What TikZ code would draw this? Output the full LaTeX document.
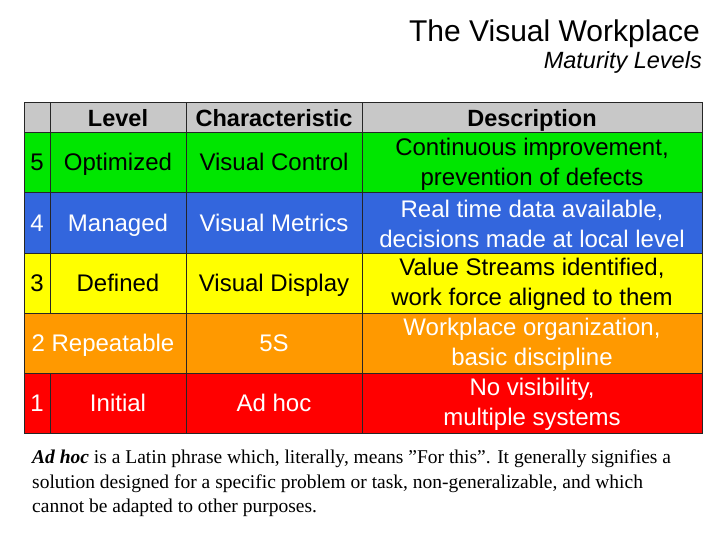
\documentclass[tikz,border=0pt]{standalone}
\usepackage{fontspec}
\setmainfont{Liberation Serif}
\newfontfamily\arial{Liberation Sans}
\definecolor{gr}{RGB}{0,230,0}
\definecolor{bl}{RGB}{51,102,221}
\definecolor{ye}{RGB}{255,255,0}
\definecolor{orr}{RGB}{255,153,0}
\definecolor{re}{RGB}{255,0,0}
\definecolor{hd}{RGB}{200,200,200}
\begin{document}
\begin{tikzpicture}[x=1pt,y=-1pt,
  cell/.style={font=\arial\fontsize{24}{24}\selectfont,inner sep=0pt,anchor=base},
  desc/.style={font=\arial\fontsize{24}{30}\selectfont,align=center,inner sep=0pt,anchor=center},
  hdr/.style={font=\arial\bfseries\fontsize{23.5}{23.5}\selectfont,inner sep=0pt,anchor=base}]
\useasboundingbox (0,0) rectangle (720,540);
\fill[white] (0,0) rectangle (720,540);
\node[font=\arial\fontsize{30}{30}\selectfont,anchor=base east,inner sep=0pt] (t) at (700,42) {The Visual Workplace};
\node[font=\arial\itshape\fontsize{23.5}{23.5}\selectfont,anchor=base east,inner sep=0pt] (st) at (702,69) {Maturity Levels};
% fills
\fill[hd] (24,103) rectangle (702,133);
\fill[gr] (24,133) rectangle (702,193);
\fill[bl] (24,193) rectangle (702,253);
\fill[ye] (24,253) rectangle (702,313);
\fill[orr] (24,313) rectangle (702,373);
\fill[re] (24,373) rectangle (702,433);
% grid
\draw[black!85,line width=1pt] (24,103) rectangle (702,433);
\foreach \y in {133,193,253,313,373} \draw[black!85,line width=1pt] (24,\y) -- (702,\y);
\draw[black!85,line width=1pt] (186,103) -- (186,433) (362,103) -- (362,433);
\draw[black!85,line width=1pt] (50,103) -- (50,313) (50,373) -- (50,433);
% header
\node[hdr] (h1) at (118,127) {Level};
\node[hdr] (h2) at (274,127) {Characteristic};
\node[hdr] (h3) at (532,127) {Description};
% rows
\node[cell] (n5) at (37,171) {5};
\node[cell] (l5) at (118,171) {Optimized};
\node[cell] (c5) at (274,171) {Visual Control};
\node[desc] (d5) at (532,164) {Continuous improvement,\\prevention of defects};
\node[cell,text=white] (n4) at (37,231) {4};
\node[cell,text=white] (l4) at (118,231) {Managed};
\node[cell,text=white] (c4) at (274,231) {Visual Metrics};
\node[desc,text=white] (d4) at (532,224) {Real time data available,\\decisions made at local level};
\node[cell] (n3) at (37,291) {3};
\node[cell] (l3) at (118,291) {Defined};
\node[cell] (c3) at (274,291) {Visual Display};
\node[desc] (d3) at (532,284) {Value Streams identified,\\work force aligned to them};
\node[cell,text=white] (l2) at (103,351) {2 Repeatable};
\node[cell,text=white] (c2) at (274,351) {5S};
\node[desc,text=white] (d2) at (532,344) {Workplace organization,\\basic discipline};
\node[cell,text=white] (n1) at (37,411) {1};
\node[cell,text=white] (l1) at (118,411) {Initial};
\node[cell,text=white] (c1) at (274,411) {Ad hoc};
\node[desc,text=white] (d1) at (532,404) {No visibility,\\multiple systems};
\node[font=\fontsize{19.5}{24.5}\selectfont,anchor=north west,align=left,inner sep=0pt] (note) at (32,450)
{\textit{\textbf{Ad hoc}} is a Latin phrase which, literally, means {\char34}For this{\char34}. It generally signifies a\\
solution designed for a specific problem or task, non-generalizable, and which\\
cannot be adapted to other purposes.};
\end{tikzpicture}
\end{document}
